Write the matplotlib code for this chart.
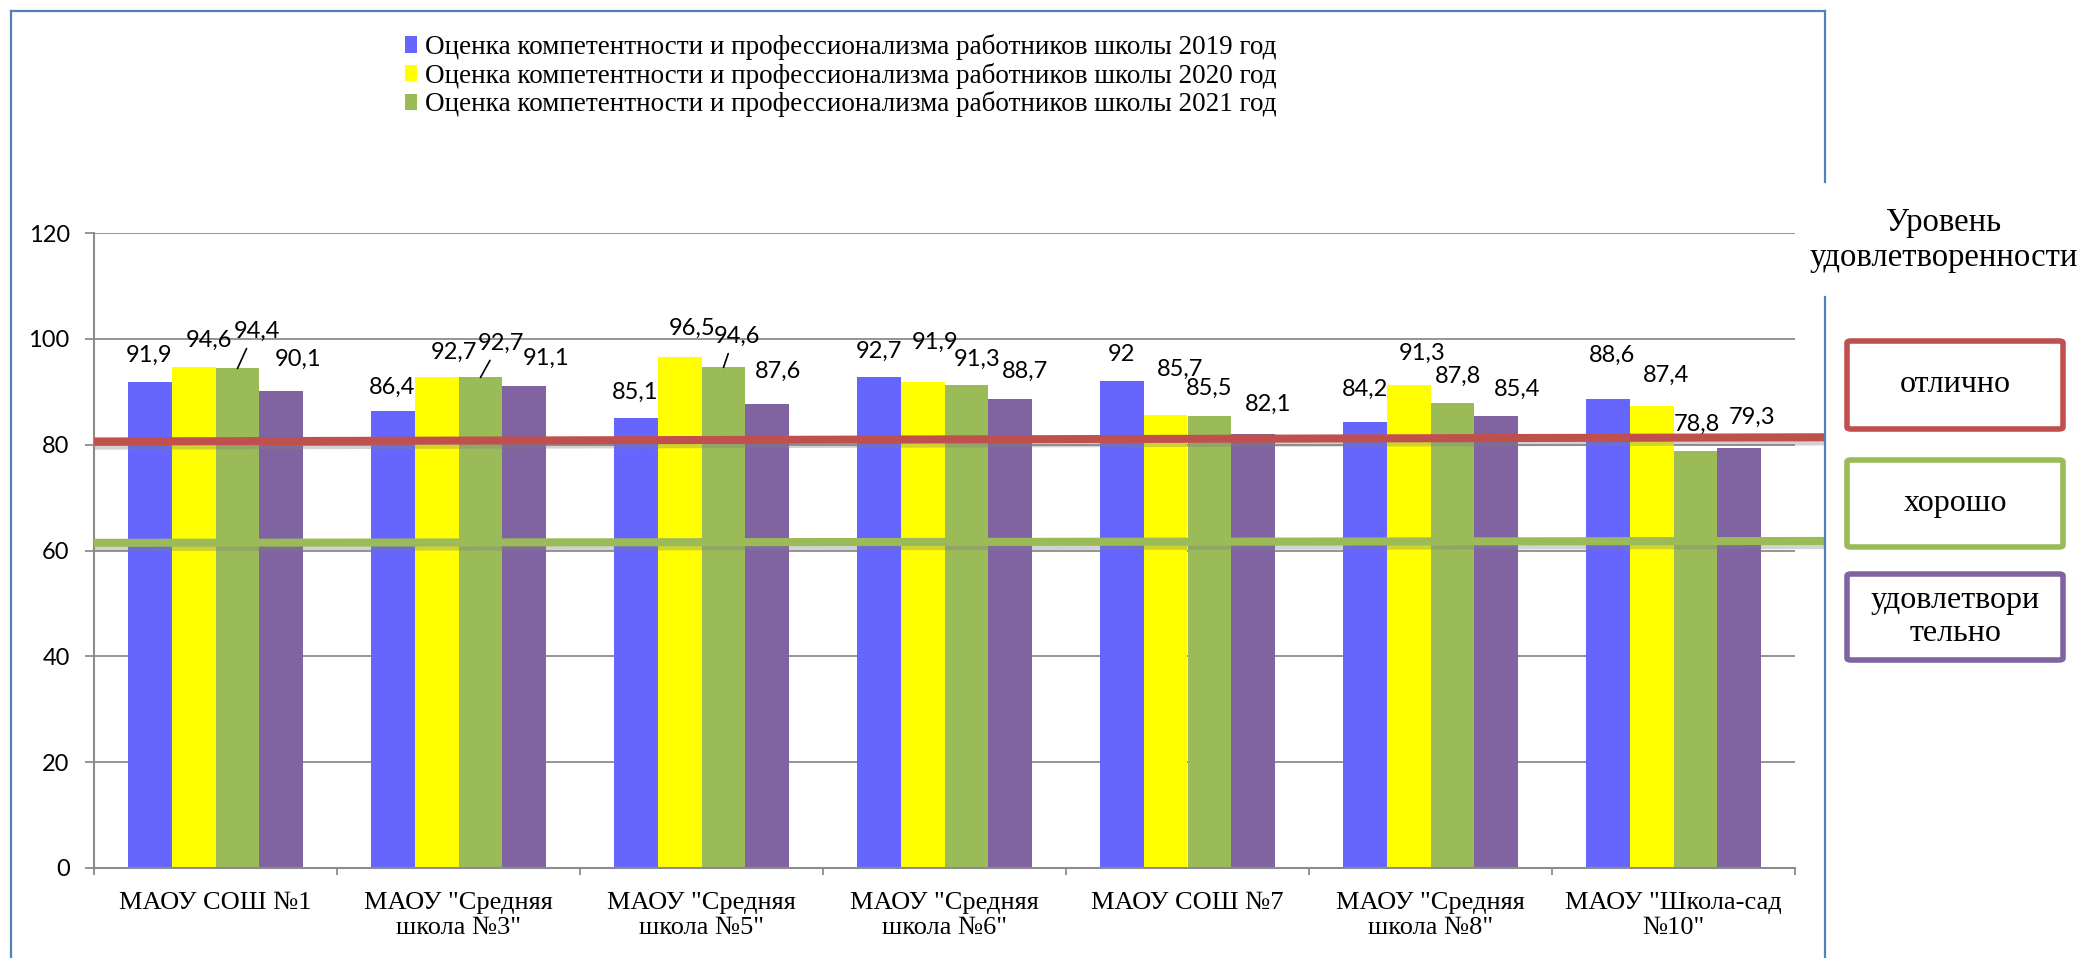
import matplotlib
matplotlib.use("Agg")
import matplotlib.pyplot as plt
import matplotlib.patheffects as pe
from matplotlib.patches import FancyBboxPatch
from matplotlib.lines import Line2D
from matplotlib.font_manager import FontProperties
import numpy as np

# ---------------- data ----------------
categories = ['МАОУ СОШ №1', 'МАОУ "Средняя\nшкола №3"', 'МАОУ "Средняя\nшкола №5"',
              'МАОУ "Средняя\nшкола №6"', 'МАОУ СОШ №7', 'МАОУ "Средняя\nшкола №8"',
              'МАОУ "Школа-сад\n№10"']
series_2019 = [91.9, 86.4, 85.1, 92.7, 92.0, 84.2, 88.6]
series_2020 = [94.6, 92.7, 96.5, 91.9, 85.7, 91.3, 87.4]
series_2021 = [94.4, 92.7, 94.6, 91.3, 85.5, 87.8, 78.8]
series_4 = [90.1, 91.1, 87.6, 88.7, 82.1, 85.4, 79.3]
legend_labels = ['Оценка компетентности и профессионализма работников школы 2019 год',
                 'Оценка компетентности и профессионализма работников школы 2020 год',
                 'Оценка компетентности и профессионализма работников школы 2021 год']
y_ticks = [0, 20, 40, 60, 80, 100, 120]
excellent_line = [80.6, 81.4]   # левый / правый край линии «отлично»
good_line = [61.45, 61.8]       # левый / правый край линии «хорошо»
level_title = 'Уровень\nудовлетворенности'
level_labels = ['отлично', 'хорошо', 'удовлетвори\nтельно']

# ---------------- styles ----------------
colors = ['#6666FF', '#FFFF00', '#9BBB59', '#8064A2']
level_colors = ['#C0504D', '#9BBB59', '#8064A2']
border_color = '#4F81BD'
grid_color = '#8C8C8C'
serif = 'Liberation Serif'
sans = ['Lato', 'DejaVu Sans']

# label offsets in pixels (dx, dy) relative to bar top centre
label_offsets = [
    [(0, 26), (15, 27), (19, 37), (17, 32)],
    [(0, 23), (17, 25), (20, 34), (22, 28)],
    [(0, 25), (13, 29), (14, 31), (11, 33)],
    [(0, 26), (13, 39), (11, 26), (15, 27)],
    [(0, 27), (15, 45), (0, 27), (15, 29)],
    [(0, 33), (14, 32), (6, 27), (21, 27)],
    [(5, 44), (14, 30), (1, 27), (13, 31)],
]
leaders = {(0, 2), (1, 2), (2, 2)}

W, H = 2080, 958
fig = plt.figure(figsize=(W / 100, H / 100), dpi=100)
fx = lambda px: px / W
fy = lambda py: 1 - py / H

ax = fig.add_axes([fx(94), fy(868), fx(1795) - fx(94), fy(233) - fy(868)])

all_series = [series_2019, series_2020, series_2021, series_4]
n = len(all_series)
bw = 0.181
x = np.arange(len(categories))
bars = []
for j, s in enumerate(all_series):
    b = ax.bar(x + (j - (n - 1) / 2) * bw, s, width=bw, color=colors[j],
               linewidth=0, zorder=2)
    bars.append(b)

# data labels
for j, s in enumerate(all_series):
    for i, v in enumerate(s):
        xc = x[i] + (j - (n - 1) / 2) * bw
        dx, dy = label_offsets[i][j]
        txt = f'{v:g}'.replace('.', ',')
        kw = {}
        if (i, j) in leaders:
            kw['arrowprops'] = dict(arrowstyle='-', color='black', lw=1.2,
                                    relpos=(0.35, 0.0), shrinkA=3, shrinkB=0)
        ax.annotate(txt, xy=(xc, v), xytext=(dx, dy), textcoords='offset pixels',
                    ha='center', va='center', fontsize=17, family=sans,
                    color='black', zorder=5, **kw)

ax.set_ylim(0, 120)
ax.set_xlim(-0.5, len(categories) - 0.5)
ax.set_yticks(y_ticks)
ax.set_yticklabels([str(t) for t in y_ticks], fontsize=17, family=sans)
ax.yaxis.grid(True, color=grid_color, lw=1.3)
ax.set_axisbelow(True)
for sp in ['top', 'right']:
    ax.spines[sp].set_visible(False)
ax.spines['left'].set_color(grid_color)
ax.spines['left'].set_linewidth(1.5)
ax.spines['bottom'].set_color(grid_color)
ax.spines['bottom'].set_linewidth(1.5)
ax.tick_params(axis='y', length=6.5, width=1.3, color=grid_color, pad=11)
ax.set_xticks(np.arange(-0.5, len(categories)), minor=False)
ax.set_xticklabels([])
ax.set_xticks(x, minor=True)
ax.set_xticklabels(categories, minor=True, fontsize=19, family=serif)
ax.tick_params(axis='x', which='major', length=5, width=1.3, color=grid_color)
ax.tick_params(axis='x', which='minor', length=0, pad=17)

# threshold lines
x_end = -0.5 + (1824 - 94) / 243.0
for vals, c in [(excellent_line, level_colors[0]), (good_line, level_colors[1])]:
    ax.plot([-0.5, x_end], vals, color=c, lw=5.8, solid_capstyle='butt',
            clip_on=False, zorder=4,
            path_effects=[pe.SimpleLineShadow(offset=(0, -3), shadow_color='#7F7F7F', alpha=0.35),
                          pe.Normal()])

# legend
fig.legend(handles=[bars[0], bars[1], bars[2]], labels=legend_labels,
           loc='upper left', bbox_to_anchor=(fx(405), fy(34)), frameon=False,
           borderpad=0, borderaxespad=0, handlelength=0.45, handleheight=0.55,
           handletextpad=0.3, labelspacing=0.1,
           prop=FontProperties(family=serif, size=19.5))

# border lines
def fline(xs, ys):
    fig.add_artist(Line2D([fx(v) for v in xs], [fy(v) for v in ys],
                          color=border_color, lw=1.6, transform=fig.transFigure))
fline([11, 11], [11, 958])
fline([11, 1825], [11, 11])
fline([1825, 1825], [11, 182])
fline([1825, 1825], [297, 958])

# right panel
fig.text(fx(1944), fy(240), level_title, ha='center', va='center',
         fontsize=23.5, family=serif)
boxes = [(341, 429), (460, 547), (574, 660)]
for (t, b), lab, c in zip(boxes, level_labels, level_colors):
    p = FancyBboxPatch((fx(1847), fy(b)), fx(2063) - fx(1847), fy(t) - fy(b),
                       boxstyle='round,pad=0,rounding_size=0.002',
                       transform=fig.transFigure, facecolor='white',
                       edgecolor=c, lw=4)
    fig.add_artist(p)
    fig.text(fx(1955), fy((t + b) / 2), lab, ha='center', va='center',
             fontsize=23, family=serif)

fig.savefig('out.png', dpi=100)
